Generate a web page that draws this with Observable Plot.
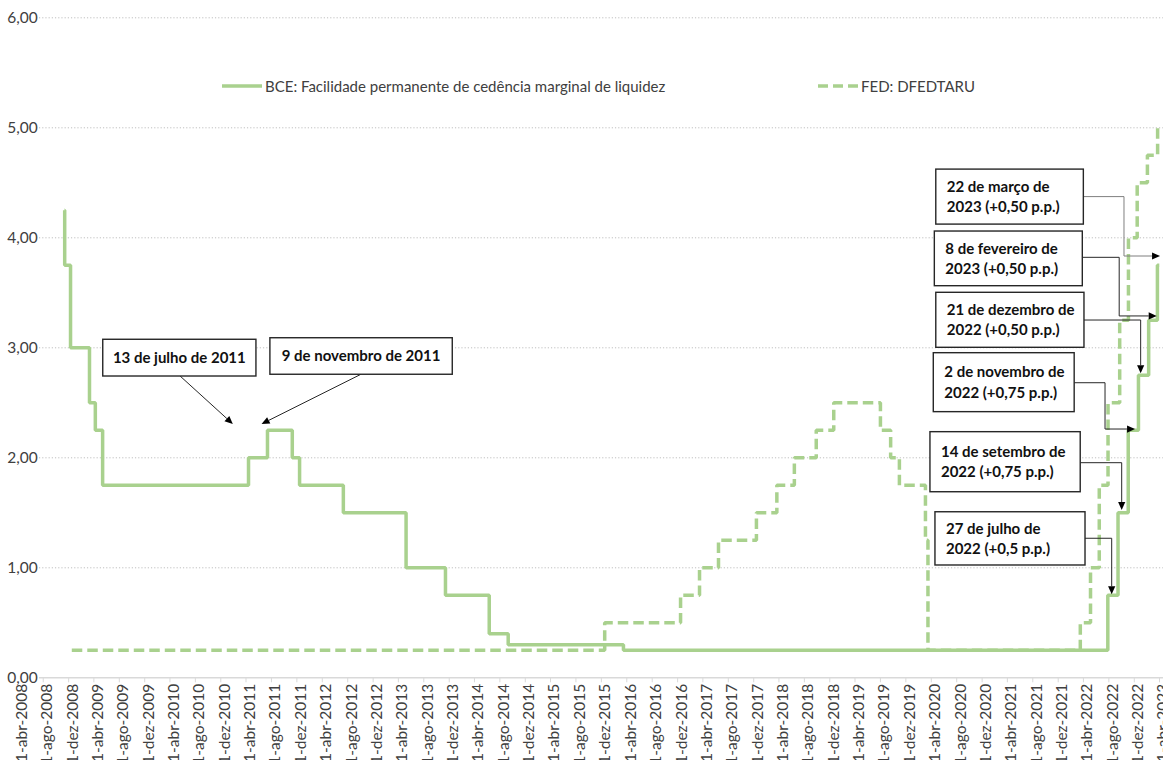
<!DOCTYPE html>
<html><head><meta charset="utf-8">
<script src="https://cdn.jsdelivr.net/npm/d3@7"></script>
<script src="https://cdn.jsdelivr.net/npm/@observablehq/plot@0.6"></script>
<style>
html,body{margin:0;padding:0;background:#fff;overflow:hidden;}
#wrap{position:relative;width:1163px;height:760px;overflow:hidden;}
.lg{position:absolute;top:77px;height:18px;display:flex;align-items:center;font:15px Lato, sans-serif;color:#404040;white-space:nowrap;}
.lg svg{margin-right:3px;}
</style></head><body><div id="wrap"></div>
<script>
// ---- data ----
const bceDates = ["2008-11-11","2008-11-12","2008-12-10","2009-03-11","2009-04-08","2009-05-13","2011-04-13","2011-07-13","2011-11-09","2011-12-14","2012-07-11","2013-05-08","2013-11-13","2014-06-11","2014-09-10","2016-03-16","2022-07-27","2022-09-14","2022-11-02","2022-12-21","2023-02-08","2023-03-22","2023-03-31"];
const bceValues = [4.25,3.75,3.00,2.50,2.25,1.75,2.00,2.25,2.00,1.75,1.50,1.00,0.75,0.40,0.30,0.25,0.75,1.50,2.25,2.75,3.25,3.75,3.75];
const fedDates = ["2008-12-16","2015-12-17","2016-12-15","2017-03-16","2017-06-15","2017-12-14","2018-03-22","2018-06-14","2018-09-27","2018-12-20","2019-08-01","2019-09-19","2019-10-31","2020-03-04","2020-03-16","2022-03-17","2022-05-05","2022-06-16","2022-07-28","2022-09-22","2022-11-03","2022-12-15","2023-02-02","2023-03-23"];
const fedValues = [0.25,0.50,0.75,1.00,1.25,1.50,1.75,2.00,2.25,2.50,2.25,2.00,1.75,1.25,0.25,0.50,1.00,1.75,2.50,3.25,4.00,4.50,4.75,5.00];
const seriesNames = ["BCE: Facilidade permanente de cedência marginal de liquidez", "FED: DFEDTARU"];
const monthNames = ["jan","fev","mar","abr","mai","jun","jul","ago","set","out","nov","dez"];
const yTicks = [0,1,2,3,4,5,6];
const xStart = "2008-04-01", xEnd = "2023-04-01";
const noteTexts = [
  ["13 de julho de 2011"],
  ["9 de novembro de 2011"],
  ["22 de março de", "2023 (+0,50 p.p.)"],
  ["8 de fevereiro de", "2023 (+0,50 p.p.)"],
  ["21 de dezembro de", "2022 (+0,50 p.p.)"],
  ["2 de novembro de", "2022 (+0,75 p.p.)"],
  ["14 de setembro de", "2022 (+0,75 p.p.)"],
  ["27 de julho de", "2022 (+0,5 p.p.)"]
];

// ---- build ----
const D = s => new Date(s);
const bce = bceDates.map((d, i) => ({date: D(d), value: bceValues[i]}));
const fed = fedDates.map((d, i) => ({date: D(d), value: fedValues[i]}));
const tickDates = d3.utcMonth.range(D(xStart), d3.utcDay.offset(D(xEnd), 1), 4);
const fmtTick = d => `1-${monthNames[d.getUTCMonth()]}-${d.getUTCFullYear()}`;
const gridStart = D("2008-07-14"), gridEnd = D("2023-04-20");
const green = "#a9d18e";

// annotation layout in data coordinates (box corners, connector path; last point = arrow tip)
const notesLayout = [
  {x1:"2009-05-16", x2:"2011-05-21", y1:3.073, y2:2.739, align:"middle", path:[["2010-05-22",2.739],["2011-01-30",2.303]]},
  {x1:"2011-07-27", x2:"2013-12-18", y1:3.087, y2:2.755, align:"middle", path:[["2012-10-06",2.755],["2011-06-17",2.303]]},
  {x1:"2020-04-25", x2:"2022-04-03", y1:4.62, y2:4.12, align:"start", path:[["2022-04-03",4.37],["2022-10-15",4.37],["2022-10-15",3.83],["2023-04-06",3.83]]},
  {x1:"2020-04-18", x2:"2022-03-29", y1:4.057, y2:3.56, align:"start", path:[["2022-03-29",3.818],["2022-09-22",3.818],["2022-09-22",3.285],["2023-03-21",3.285]]},
  {x1:"2020-04-25", x2:"2022-04-06", y1:3.50, y2:3.00, align:"start", path:[["2022-04-06",3.248],["2023-01-03",3.248],["2023-01-03",2.764]]},
  {x1:"2020-04-13", x2:"2022-02-18", y1:2.951, y2:2.415, align:"start", path:[["2022-02-18",2.678],["2022-07-16",2.678],["2022-07-16",2.257],["2022-12-07",2.257]]},
  {x1:"2020-03-28", x2:"2022-03-19", y1:2.233, y2:1.687, align:"start", path:[["2022-03-19",1.951],["2022-10-04",1.951],["2022-10-04",1.521]]},
  {x1:"2020-04-21", x2:"2022-04-11", y1:1.505, y2:1.021, align:"start", path:[["2022-04-11",1.264],["2022-08-17",1.264],["2022-08-17",0.755]]}
];

function annotations(index, scales) {
  const {x, y} = scales;
  const g = d3.create("svg:g");
  notesLayout.forEach((n, k) => {
    const X1 = x(D(n.x1)), X2 = x(D(n.x2)), Y1 = y(n.y1), Y2 = y(n.y2);
    const pts = n.path.map(([d, v]) => [x(D(d)), y(v)]);
    const [tx, ty] = pts[pts.length - 1];
    const [px, py] = pts[pts.length - 2];
    const len = Math.hypot(tx - px, ty - py), ux = (tx - px) / len, uy = (ty - py) / len;
    const hl = 8, hw = 3.6;
    const line = pts.slice(0, -1).concat([[tx - ux * hl, ty - uy * hl]]);
    g.append("path").attr("d", d3.line()(line)).attr("fill", "none")
      .attr("stroke", k === 2 ? "#7f7f7f" : "#262626").attr("stroke-width", 1);
    const bx = tx - ux * hl, by = ty - uy * hl;
    g.append("path").attr("d", d3.line()([[tx, ty], [bx - uy * hw, by + ux * hw], [bx + uy * hw, by - ux * hw]]) + "Z")
      .attr("fill", "#000");
    g.append("rect").attr("x", X1).attr("y", Y1).attr("width", X2 - X1).attr("height", Y2 - Y1)
      .attr("fill", "#fff").attr("stroke", "#262626").attr("stroke-width", 1.4);
    const lines = noteTexts[k];
    const cy = (Y1 + Y2) / 2;
    lines.forEach((t, i) => {
      g.append("text")
        .attr("x", n.align === "middle" ? (X1 + X2) / 2 : X1 + 11)
        .attr("y", cy + (i - (lines.length - 1) / 2) * 20.5)
        .attr("dy", "0.36em")
        .attr("text-anchor", n.align)
        .attr("font-family", "Lato, sans-serif").attr("font-weight", "bold").attr("font-size", 15)
        .attr("fill", "#111").text(t);
    });
  });
  return g.node();
}

const H = 800;
const chart = Plot.plot({
  width: 1163, height: H,
  marginLeft: 17.3, marginRight: 4, marginTop: 17.3, marginBottom: H - 677.3,
  style: {fontFamily: "Lato, sans-serif", background: "white", overflow: "visible"},
  x: {type: "utc", domain: [D(xStart), D(xEnd)]},
  y: {domain: [0, 6]},
  marks: [
    Plot.ruleY(yTicks.filter(v => v > 0), {x1: gridStart, x2: gridEnd, stroke: "#bfbfbf", strokeWidth: 1, strokeDasharray: "1.2,2"}),
    Plot.ruleY([0], {x1: gridStart, x2: gridEnd, stroke: "#d9d9d9", strokeWidth: 1.5}),
    Plot.axisX({ticks: tickDates.filter(d => d >= gridStart), tickSize: 5, tickFormat: () => "", stroke: "#d9d9d9", label: null}),
    Plot.axisX({ticks: tickDates, tickSize: 0, tickPadding: 6, tickRotate: -90, tickFormat: fmtTick, fontSize: 15.5, fill: "#404040", dx: 4, label: null}),
    Plot.axisY({ticks: yTicks, tickSize: 0, tickPadding: 0, dx: 20, tickFormat: v => v.toFixed(2).replace(".", ","), fontSize: 15.5, fill: "#404040", label: null}),
    Plot.line(fed, {x: "date", y: "value", curve: "step-after", stroke: green, strokeWidth: 3.5, strokeDasharray: "10.5,5", strokeLinecap: "butt", strokeLinejoin: "miter"}),
    Plot.line(bce, {x: "date", y: "value", curve: "step-after", stroke: green, strokeWidth: 3.5, strokeLinecap: "butt", strokeLinejoin: "miter"}),
    annotations
  ]
});
const wrap = document.getElementById("wrap");
wrap.appendChild(chart);

// legend overlay
const legend = [
  {left: 222, name: seriesNames[0], dash: null},
  {left: 818, name: seriesNames[1], dash: "10,5"}
];
legend.forEach(l => {
  const div = document.createElement("div");
  div.className = "lg";
  div.style.left = l.left + "px";
  div.innerHTML = `<svg width="40" height="8"><line x1="0" x2="40" y1="4" y2="4" stroke="${green}" stroke-width="3.5" ${l.dash ? `stroke-dasharray="${l.dash}"` : ""}/></svg><span></span>`;
  div.querySelector("span").textContent = l.name;
  wrap.appendChild(div);
});
</script></body></html>
